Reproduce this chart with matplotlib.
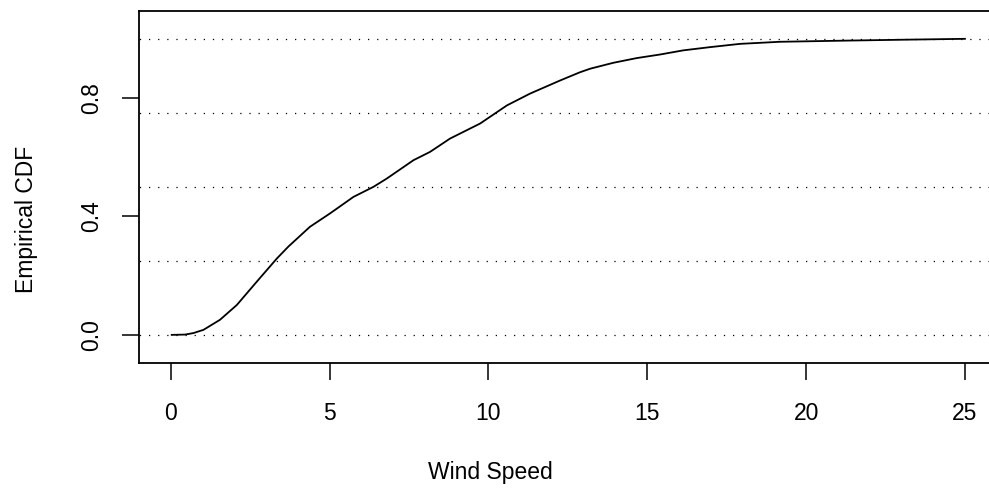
import numpy as np
import matplotlib
matplotlib.use("Agg")
import matplotlib.pyplot as plt

plt.rcParams['font.family'] = ['Liberation Sans', 'DejaVu Sans']

# empirical CDF of wind speed
wind_speed = [0.03, 0.45, 0.71, 1.03, 1.55, 2.08, 2.71, 3.34, 3.70, 4.38, 5.01,
              5.75, 6.38, 6.80, 7.64, 8.16, 8.79, 9.74, 10.58, 11.31, 12.25,
              12.88, 13.2, 13.93, 14.67, 15.4, 16.13, 16.98, 17.92, 19.17,
              21.28, 23.05, 25.0]
ecdf = [0.0, 0.001, 0.006, 0.017, 0.051, 0.101, 0.18, 0.258, 0.298, 0.365, 0.41,
        0.466, 0.50, 0.528, 0.59, 0.618, 0.663, 0.714, 0.775, 0.815, 0.859,
        0.887, 0.899, 0.919, 0.935, 0.947, 0.961, 0.972, 0.983, 0.990,
        0.994, 0.997, 1.0]
grid_levels = [0, 0.25, 0.5, 0.75, 1.0]
x_ticks = [0, 5, 10, 15, 20, 25]
y_ticks = [0.0, 0.4, 0.8]

W, H = 989, 493
fig = plt.figure(figsize=(W / 100, H / 100), dpi=100)
left, right, top, bottom = 139, 996.7, 11, 362.7
ax = fig.add_axes([left / W, (H - bottom) / H, (right - left) / W, (bottom - top) / H])

for lv in grid_levels:
    ax.axhline(lv, color='black', lw=0.9, linestyle=(7, (1, 6.3)))

ax.plot(wind_speed, ecdf, color='black', lw=1.3)

ax.set_xlim(-1, 26)
ax.set_ylim(-0.094, 1.094)
ax.set_xticks(x_ticks)
ax.set_xticklabels([str(v) for v in x_ticks])
ax.set_yticks(y_ticks)
ax.set_yticklabels(['%.1f' % v for v in y_ticks], rotation=90, va='center')

for s in ax.spines.values():
    s.set_linewidth(1.3)
ax.tick_params(axis='both', length=12, width=1.1, labelsize=16.5, color='black')
ax.tick_params(axis='x', pad=16)
ax.tick_params(axis='y', pad=14)

fig.text(490 / W, 1 - 472 / H, 'Wind Speed', ha='center', va='center', fontsize=16.5)
fig.text(27 / W, 1 - 219 / H, 'Empirical CDF', ha='center', va='center',
         rotation=90, fontsize=16.5)

fig.savefig('out.png', dpi=100)
